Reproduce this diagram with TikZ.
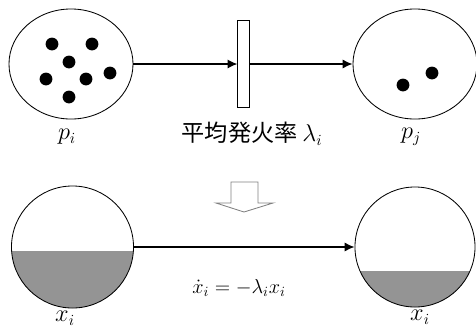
\documentclass[tikz,border=0pt]{standalone}
\usepackage{amsmath,amssymb}
\usepackage{fontspec}
\newfontfamily\jpfont{Noto Sans CJK JP}
\usetikzlibrary{arrows.meta,shapes.geometric}

\begin{document}
\begin{tikzpicture}[x=0.025cm,y=-0.025cm,
  place/.style={draw,ellipse,line width=0.6pt,inner sep=0pt,minimum width=3.1cm,minimum height=2.75cm},
  tank/.style={draw,circle,line width=0.6pt,inner sep=0pt,minimum size=3.05cm},
  token/.style={circle,fill=black,inner sep=0pt,minimum size=0.32cm},
  flow/.style={-{Latex[length=7pt,width=6.5pt]},line width=1.1pt},
  lbl/.style={font=\fontsize{16}{19}\selectfont}]

\useasboundingbox (0,0) rectangle (476,332);

% Places (top)
\node[place] (pi) at (71,64) {};
\node[place] (pj) at (415,64) {};

% Tokens
\foreach \x/\y in {52/44,92/44,69/62,46/79,86/79,110/73,69/97}
  \node[token] at (\x,\y) {};
\foreach \x/\y in {403/85,432/73}
  \node[token] at (\x,\y) {};

% Transition bar
\node[draw,rectangle,line width=0.6pt,minimum width=0.28cm,minimum height=2.17cm,inner sep=0pt] (t) at (243.5,64) {};

% Arcs
\draw[flow] (pi.east) -- (t.west);
\draw[flow] (t.east) -- (pj.west);

% Labels (top)
\node[lbl] (lpi) at (67,137) {$p_i$};
\node[lbl] (lpj) at (411,137) {$p_j$};
\node (rate) at (252,134) {{\jpfont\fontsize{16.5}{19}\selectfont 平均発火率} \fontsize{16}{19}\selectfont$\lambda_i$};

% Hollow arrow
\draw[gray,line width=0.6pt] (231,182) -- (258,182) -- (258,203) -- (273,203) -- (244,212) -- (216,203) -- (231,203) -- cycle;

% Tanks (bottom), level first
\begin{scope}
\clip (72.5,247) circle [radius=1.525cm];
\fill[black!42] (0,251) rectangle (150,320);
\end{scope}
\begin{scope}
\clip (415,247) circle [radius=1.5cm];
\fill[black!42] (340,271) rectangle (480,320);
\end{scope}
\node[tank] (xa) at (72.5,247) {};
\node[tank,minimum size=3cm] (xb) at (415,247) {};

% Flow (bottom)
\draw[flow] (xa.east) -- (xb.west);

% Labels (bottom)
\node[lbl] (lxa) at (65,318) {$x_i$};
\node[lbl] (lxb) at (420,317) {$x_i$};
\node[font=\fontsize{14}{17}\selectfont] (eq) at (239,288) {$\dot{x}_i = -\lambda_i x_i$};

\end{tikzpicture}
\end{document}
